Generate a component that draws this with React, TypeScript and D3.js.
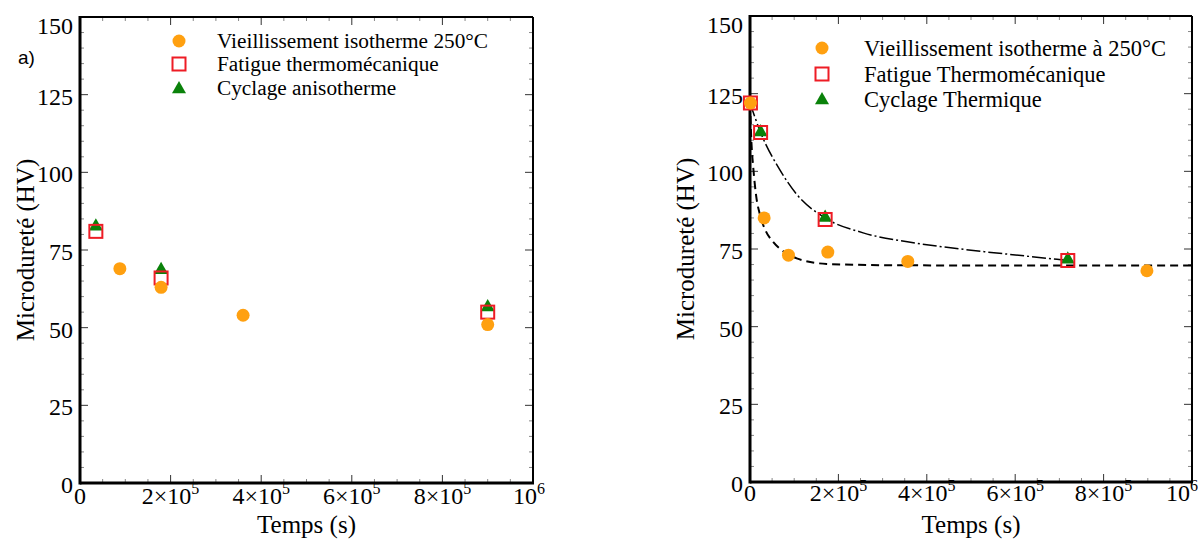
import React from "react";
import * as d3 from "d3";

// ---------- DATA ----------
const yTicks = [0, 25, 50, 75, 100, 125, 150];
const xTicks = [0, 200000, 400000, 600000, 800000, 1000000];
const xTickLabels = [
  { base: "0", sup: "" },
  { base: "2×10", sup: "5" },
  { base: "4×10", sup: "5" },
  { base: "6×10", sup: "5" },
  { base: "8×10", sup: "5" },
  { base: "10", sup: "6" },
];

// Panel a)
const leftLegend = ["Vieillissement isotherme 250°C", "Fatigue thermomécanique", "Cyclage anisotherme"];
const leftAging: [number, number][] = [[88000, 69], [179000, 63], [360000, 54], [900000, 51]];
const leftFatigue: [number, number][] = [[35000, 81], [179000, 66], [900000, 55]];
const leftCycling: [number, number][] = [[35000, 83], [179000, 69], [900000, 57]];

// Panel b)
const rightLegend = ["Vieillissement isotherme à 250°C", "Fatigue Thermomécanique", "Cyclage Thermique"];
const rightAging: [number, number][] = [[1000, 122], [32000, 85], [87000, 73], [176000, 74], [357000, 71], [898000, 68]];
const rightFatigue: [number, number][] = [[1000, 122], [24000, 112.5], [170000, 84.5], [719000, 71.3]];
const rightCycling: [number, number][] = [[24000, 113], [170000, 85.5], [719000, 72]];
// fitted curves
const fitAging: [number, number][] = [
  [0, 122], [3000, 110], [7500, 101], [14000, 92], [22600, 86], [35000, 81], [52800, 77.2],
  [75000, 74.3], [105600, 72], [173500, 70.2], [300000, 69.8], [500000, 69.7], [1000000, 69.7],
];
const fitFatigue: [number, number][] = [
  [0, 122], [24000, 112.5], [67900, 100.4], [105600, 92.6], [170000, 85], [256000, 80.2],
  [356000, 77.3], [482600, 74.9], [633000, 72.6], [719000, 71.3],
];

const ORANGE = "#FFA010";
const RED = "#EE1C25";
const GREEN = "#0A820A";
const FONT = "'Liberation Serif', 'Times New Roman', serif";

type PanelProps = {
  x0: number; x1: number; y0: number; y1: number;
  legend: string[]; legendX: number; legendTextX: number; legendYs: number[]; legendFont: number;
  aging: [number, number][]; fatigue: [number, number][]; cycling: [number, number][];
  fits?: { pts: [number, number][]; dash: string; width: number }[];
  yLabelX: number; xLabelY: number; xTickY: number; lastTickShift: number;
};

function Markers({ type, x, y }: { type: string; x: number; y: number }) {
  if (type === "circle") return <circle cx={x} cy={y} r={6.5} fill={ORANGE} />;
  if (type === "square")
    return <rect x={x - 6.5} y={y - 6.5} width={13} height={13} fill="none" stroke={RED} strokeWidth={2} />;
  const s = 7;
  return <path d={`M${x},${y - s}L${x + s},${y + s * 0.75}L${x - s},${y + s * 0.75}Z`} fill={GREEN} />;
}

function Panel(p: PanelProps) {
  const xs = d3.scaleLinear().domain([0, 1000000]).range([p.x0, p.x1]);
  const ys = d3.scaleLinear().domain([0, 150]).range([p.y1, p.y0]);
  const xMinor = d3.range(0, 1000001, 50000);
  const yMinor = d3.range(0, 151, 5);
  const line = d3.line<[number, number]>().x((d) => xs(d[0])).y((d) => ys(d[1])).curve(d3.curveMonotoneX);
  return (
    <g>
      {xMinor.map((v) => {
        const major = v % 200000 === 0;
        const L = major ? 8 : 4;
        return (
          <g key={"xm" + v} stroke={major ? "#333" : "#888"} strokeWidth={1}>
            <line x1={xs(v)} x2={xs(v)} y1={p.y1} y2={p.y1 - L} />
            <line x1={xs(v)} x2={xs(v)} y1={p.y0} y2={p.y0 + L} />
          </g>
        );
      })}
      {yMinor.map((v) => {
        const major = v % 25 === 0;
        const L = major ? 8 : 4;
        return (
          <g key={"ym" + v} stroke={major ? "#333" : "#888"} strokeWidth={1}>
            <line x1={p.x0} x2={p.x0 + L} y1={ys(v)} y2={ys(v)} />
            <line x1={p.x1} x2={p.x1 - L} y1={ys(v)} y2={ys(v)} />
          </g>
        );
      })}
      <line x1={p.x0} x2={p.x1} y1={p.y0} y2={p.y0} stroke="#000" strokeWidth={2} />
      <line x1={p.x1} x2={p.x1} y1={p.y0} y2={p.y1} stroke="#000" strokeWidth={2} />
      <line x1={p.x0} x2={p.x1 + 1} y1={p.y1} y2={p.y1} stroke="#000" strokeWidth={3} />
      <line x1={p.x0} x2={p.x0} y1={p.y0 - 1} y2={p.y1 + 1.5} stroke="#000" strokeWidth={3} />
      {yTicks.map((v) => (
        <text key={"yl" + v} x={p.x0 - 7} y={Math.max(ys(v) + 2, p.y0 + 9)} textAnchor="end"
          dominantBaseline="central" fontFamily={FONT} fontSize={24}>{v}</text>
      ))}
      {xTicks.map((v, i) => (
        <text key={"xl" + v} x={xs(v) + (i === xTicks.length - 1 ? p.lastTickShift : 0)} y={p.xTickY}
          textAnchor="middle" fontFamily={FONT} fontSize={24}>
          {xTickLabels[i].base}
          {xTickLabels[i].sup && <tspan dy={-10} fontSize={16}>{xTickLabels[i].sup}</tspan>}
        </text>
      ))}
      <text x={(p.x0 + p.x1) / 2} y={p.xLabelY} textAnchor="middle" fontFamily={FONT} fontSize={25}>Temps (s)</text>
      <text transform={`translate(${p.yLabelX},${(p.y0 + p.y1) / 2}) rotate(-90)`} textAnchor="middle"
        dominantBaseline="central" fontFamily={FONT} fontSize={25}>Microdureté (HV)</text>
      {(p.fits || []).map((f, i) => (
        <path key={"f" + i} d={line(f.pts) || ""} fill="none" stroke="#000" strokeWidth={f.width} strokeDasharray={f.dash} />
      ))}
      {p.cycling.map((d, i) => <Markers key={"c" + i} type="triangle" x={xs(d[0])} y={ys(d[1])} />)}
      {p.fatigue.map((d, i) => <Markers key={"s" + i} type="square" x={xs(d[0])} y={ys(d[1])} />)}
      {p.aging.map((d, i) => <Markers key={"a" + i} type="circle" x={xs(d[0])} y={ys(d[1])} />)}
      {["circle", "square", "triangle"].map((t, i) => (
        <g key={"lg" + i}>
          <Markers type={t} x={p.legendX} y={p.legendYs[i]} />
          <text x={p.legendTextX} y={p.legendYs[i]} dominantBaseline="central" fontFamily={FONT}
            fontSize={p.legendFont}>{p.legend[i]}</text>
        </g>
      ))}
    </g>
  );
}

export default function App() {
  return (
    <svg width={1198} height={540} style={{ position: "absolute", left: 0, top: 0, background: "#fff" }}>
      <rect width={1198} height={540} fill="#fff" />
      <text x={18} y={57} dominantBaseline="central" fontFamily="'Liberation Sans', Arial, sans-serif" fontSize={19}>a)</text>
      <Panel x0={80} x1={533} y0={17} y1={483}
        legend={leftLegend} legendX={179} legendTextX={217} legendYs={[41, 64, 88]} legendFont={21.3}
        aging={leftAging} fatigue={leftFatigue} cycling={leftCycling}
        yLabelX={25} xLabelY={533} xTickY={504} lastTickShift={-4} />
      <Panel x0={750} x1={1192} y0={16} y1={482}
        legend={rightLegend} legendX={822} legendTextX={864} legendYs={[48, 74, 99]} legendFont={22.5}
        aging={rightAging} fatigue={rightFatigue} cycling={rightCycling}
        fits={[
          { pts: fitAging, dash: "8,5", width: 2 },
          { pts: fitFatigue, dash: "14,3,2,3", width: 1.5 },
        ]}
        yLabelX={685} xLabelY={533} xTickY={501} lastTickShift={-10} />
    </svg>
  );
}
